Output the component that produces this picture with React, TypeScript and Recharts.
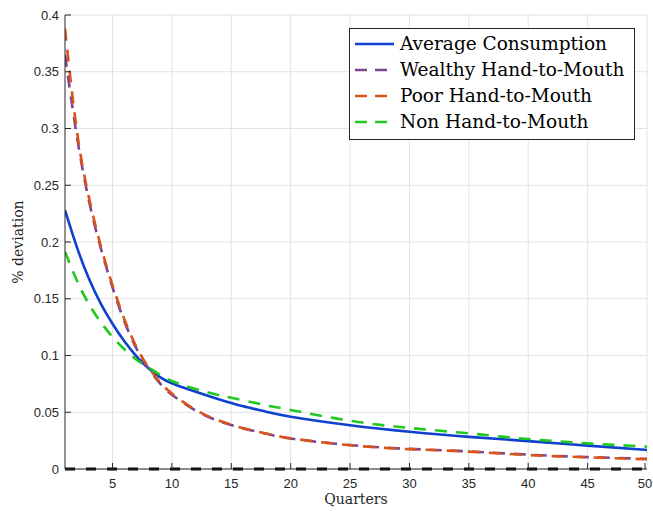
import {
  LineChart,
  Line,
  XAxis,
  YAxis,
  CartesianGrid,
  ReferenceLine,
  Legend,
} from "recharts";

const quarters = [1, 2, 3, 4, 5, 6, 7, 8, 9, 10, 12, 14, 16, 18, 20, 25, 30, 35, 40, 45, 50];
const averageConsumption = [
  0.228, 0.1955, 0.168, 0.146, 0.128, 0.1125, 0.0995, 0.089, 0.081, 0.0755, 0.068, 0.0612, 0.0552,
  0.0503, 0.046, 0.0385, 0.0328, 0.0283, 0.0246, 0.0206, 0.0168,
];
const wealthyHtM = [
  0.365, 0.293, 0.237, 0.195, 0.16, 0.13, 0.1065, 0.089, 0.0755, 0.0655, 0.0515, 0.042, 0.0358,
  0.031, 0.0268, 0.0211, 0.0177, 0.0155, 0.0126, 0.0105, 0.0089,
];
const poorHtM = [
  0.388, 0.298, 0.24, 0.197, 0.162, 0.132, 0.108, 0.09, 0.0765, 0.0665, 0.052, 0.0425, 0.036, 0.031,
  0.027, 0.0209, 0.0175, 0.0153, 0.0123, 0.0103, 0.0086,
];
const nonHtM = [
  0.1915, 0.166, 0.1455, 0.1295, 0.1165, 0.1055, 0.0965, 0.0895, 0.083, 0.0775, 0.0705, 0.065,
  0.0605, 0.056, 0.052, 0.0425, 0.0362, 0.0314, 0.0264, 0.0226, 0.0197,
];

const xTicks = [5, 10, 15, 20, 25, 30, 35, 40, 45, 50];
const yTicks = [0, 0.05, 0.1, 0.15, 0.2, 0.25, 0.3, 0.35, 0.4];
const yTickLabels = ["0", "0.05", "0.1", "0.15", "0.2", "0.25", "0.3", "0.35", "0.4"];

const data = quarters.map((q, i) => ({
  q,
  avg: averageConsumption[i],
  wealthy: wealthyHtM[i],
  poor: poorHtM[i],
  non: nonHtM[i],
}));

const series = [
  { key: "avg", name: "Average Consumption", color: "#1040d0", dashed: false },
  { key: "wealthy", name: "Wealthy Hand-to-Mouth", color: "#7e468e", dashed: true },
  { key: "poor", name: "Poor Hand-to-Mouth", color: "#d9531a", dashed: true },
  { key: "non", name: "Non Hand-to-Mouth", color: "#20c820", dashed: true },
];

const axisColor = "#262626";
const tickFont = "'Liberation Sans', Arial, sans-serif";
const serif = "'DejaVu Serif', serif";

// MATLAB style: ticks point into the plot
function YTick(props: any) {
  const { x, y, payload } = props;
  const i = yTicks.indexOf(payload.value);
  return (
    <g>
      <line x1={x} x2={x + 6} y1={y} y2={y} stroke={axisColor} />
      <text x={x - 6} y={y + 4.5} textAnchor="end" fontSize={13} fontFamily={tickFont} fill={axisColor}>
        {i >= 0 ? yTickLabels[i] : String(payload.value)}
      </text>
    </g>
  );
}

function XTick(props: any) {
  const { x, y, payload } = props;
  return (
    <g>
      <line x1={x} x2={x} y1={y} y2={y - 6} stroke={axisColor} />
      <text x={x} y={y + 19} textAnchor="middle" fontSize={13} fontFamily={tickFont} fill={axisColor}>
        {payload.value}
      </text>
    </g>
  );
}

function YLabel(props: any) {
  const vb = props.viewBox || { y: 15, height: 454 };
  const cx = 18;
  const cy = vb.y + vb.height / 2;
  return (
    <text
      x={cx}
      y={cy}
      transform={`rotate(-90, ${cx}, ${cy})`}
      textAnchor="middle"
      dominantBaseline="central"
      fontSize={14}
      fontFamily={serif}
      fill={axisColor}
    >
      % deviation
    </text>
  );
}

function XLabel(props: any) {
  const vb = props.viewBox || { x: 65, width: 582 };
  return (
    <text
      x={vb.x + vb.width / 2}
      y={504}
      textAnchor="middle"
      fontSize={14}
      fontFamily={serif}
      fill={axisColor}
    >
      Quarters
    </text>
  );
}

function LegendBox() {
  return (
    <div
      style={{
        border: "1px solid #262626",
        background: "#fff",
        padding: "2px 0 4px 5px",
        fontFamily: serif,
        fontSize: 18.5,
        color: "#000",
        boxSizing: "border-box",
        width: 286,
      }}
    >
      {series.map((s) => (
        <div key={s.key} style={{ display: "flex", alignItems: "center", height: 26 }}>
          <svg width={40} height={10} style={{ marginRight: 5, flex: "none" }}>
            <line
              x1={0}
              x2={39}
              y1={5}
              y2={5}
              stroke={s.color}
              strokeWidth={2.5}
              strokeDasharray={s.dashed ? "12 8" : undefined}
            />
          </svg>
          <span style={{ whiteSpace: "nowrap", lineHeight: "26px" }}>{s.name}</span>
        </div>
      ))}
    </div>
  );
}

export default function App() {
  return (
    <div style={{ position: "absolute", left: 0, top: 0, width: 653, height: 512, background: "#fff" }}>
      <LineChart width={653} height={512} data={data} margin={{ top: 15, right: 6, bottom: 3, left: 0 }}>
        <CartesianGrid stroke="#e3e3e3" horizontalValues={yTicks} verticalValues={xTicks} />
        <XAxis
          dataKey="q"
          type="number"
          domain={[1, 50]}
          ticks={xTicks}
          allowDataOverflow
          height={40}
          tickSize={0}
          tickMargin={0}
          tick={<XTick />}
          axisLine={{ stroke: axisColor }}
          tickLine={false}
          label={<XLabel />}
        />
        <YAxis
          type="number"
          domain={[0, 0.4]}
          ticks={yTicks}
          allowDataOverflow
          width={65}
          tickSize={0}
          tickMargin={0}
          tick={<YTick />}
          axisLine={{ stroke: axisColor }}
          tickLine={false}
          label={<YLabel />}
        />
        {series.map((s) => (
          <Line
            key={s.key}
            dataKey={s.key}
            name={s.name}
            type="natural"
            stroke={s.color}
            strokeWidth={2.6}
            strokeDasharray={s.dashed ? "12 9" : undefined}
            dot={false}
            activeDot={false}
            isAnimationActive={false}
          />
        ))}
        <ReferenceLine y={0} stroke="#000" strokeWidth={3} strokeDasharray="10 11" />
        <Legend
          layout="vertical"
          align="center"
          verticalAlign="middle"
          content={<LegendBox />}
          wrapperStyle={{ left: 349, top: 28, width: 286 }}
        />
      </LineChart>
    </div>
  );
}
